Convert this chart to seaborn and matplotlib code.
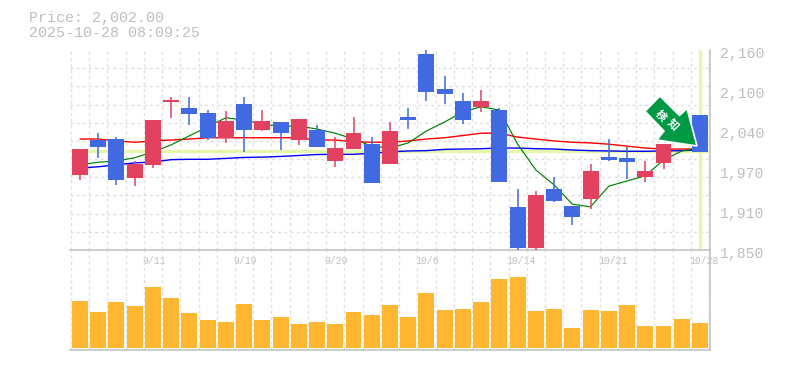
import numpy as np
import pandas as pd
import matplotlib
matplotlib.use("Agg")
import matplotlib.pyplot as plt
from matplotlib.patches import Polygon
from matplotlib.transforms import Affine2D, ScaledTranslation
import seaborn as sns

LAST_PRICE = 2003.0
TITLE_LINES = ["Price: 2,002.00", "2025-10-28 08:09:25"]
body_top = [2006.5,2020.5,2022,1983,2051.5,2082.5,2070,2062,2050,2076,2050,2048.5,2053,2036,2008,2031,2014,2034.5,
            2056,2154,2100,2081,2081,2067,1917,1935,1945,1918,1972,1994,1993,1972,2014,2028,2059]
body_bot = [1966,2010,1958.5,1962,1982,2079,2061,2024,2024,2036,2036,2031,2020.5,2010,1988,2006.5,1954,1983,
            2051.5,2095,2092,2051.5,2072,1955,1853,1853,1926,1901,1929,1989.5,1986,1963,1985,2020,2002]
wick_hi = [2007,2031,2025,1988,2051.5,2087,2087,2067,2065.5,2087,2067,2048.5,2053,2044,2025,2056,2025,2048.5,
           2070,2160,2120,2093,2098,2070,1945,1941,1963,1918,1983,2022,2010,1988,2014,2034,2059]
wick_lo = [1958,1993,1951,1949,1977,2055,2044,2020.5,2016,2002,2034.5,2005,2013,2010,1979,2006.5,1954,1983,
           2037.5,2081,2076,2045,2064,1955,1850,1850,1924,1889,1914,1988,1960,1955,1976,2018,2002]
is_red = [1,0,0,1,1,1,0,0,1,0,1,0,1,0,1,1,0,1,0,0,0,0,1,0,0,1,0,0,1,0,0,1,1,0,0]
ma_red = [2022,2022,2019,2017,2019,2020.5,2022,2024,2024,2024,2024,2024,2024,2020.5,2020.5,2018,2017,2017,2019,2022,
          2024,2027.5,2031,2031,2025,2022,2019,2017,2016,2014,2011,2008,2006.5,2006.5,2006.5]
ma_blue = [1977,1979,1982,1985,1986.5,1990,1990.6,1990.6,1992,1993.4,1994,1995,1996.5,1998,1998.3,1998.3,2000,2002,
           2003.5,2004,2006,2006.5,2007,2008,2008,2007,2006.5,2005,2004,2003.5,2003,2003,2003.5,2004,2005]
ma_green = [1982,1986,1988,1993,2002,2013,2027,2041,2055,2051.5,2045,2042,2042,2037.5,2031,2022,2011,2008,2016,2034.5,
            2048.5,2064,2072,2067,2014,1974,1951,1921,1917,1949,1957,1965,1989.5,2003.5,2008]
volume = [47,36,46,42,61,50,35,28,26,44,28,31,24,26,24,36,33,43,31,55,38,39,46,69,71,37,39,20,38,37,43,22,22,29,25]
y_tick_vals = [2160,2098,2036,1974,1912,1850]
y_tick_labels = ["2,160","2,100","2,040","1,970","1,910","1,850"]
x_tick_idx = [4,9,14,19,24,29,34]
x_tick_labels = ["9/11","9/19","9/29","10/6","10/14","10/21","10/28"]

RED, BLUE, ORANGE, BAND, GREY, GRID, ARROW = "#E34160","#4169E1","#FFB732","#E3F6AB","#BEBEBE","#E0E0E0","#009944"

sns.set_theme(style="white")
plt.rcParams["font.family"] = ["Liberation Mono", "DejaVu Sans Mono"]
fig = plt.figure(figsize=(7.85, 3.70), dpi=100, facecolor="white")
W, H = 785, 370
ax = fig.add_axes([70/W, (H-250)/H, 640/W, 200/H])
av = fig.add_axes([70/W, (H-350)/H, 640/W, 100/H])
for a in (ax, av):
    a.set_facecolor("none")

idx = np.arange(len(volume))
XLIM = (-0.548, 34.55)
grid_x = np.arange(-0.5, 34.6, 1.0)
kw = dict(color=GRID, linewidth=1.0, linestyle=(0, (2.2, 2.2)))

# price panel
ax.set_axisbelow(True)
sns.lineplot(x=idx, y=ma_red, color="#FF0000", linewidth=1.0, ax=ax, errorbar=None, zorder=3)
sns.lineplot(x=idx, y=ma_blue, color="#0000FF", linewidth=1.0, ax=ax, errorbar=None, zorder=3)
sns.lineplot(x=idx, y=ma_green, color="#008000", linewidth=0.85, ax=ax, errorbar=None, zorder=3)
ax.hlines([LAST_PRICE], XLIM[0], 34.45, color=BAND, linewidth=2.4, zorder=2)
ax.vlines([34.02], 1852, 2160, color=BAND, linewidth=2.4, zorder=2)
colors = [RED if r else BLUE for r in is_red]
ax.vlines(idx, wick_lo, wick_hi, colors=colors, linewidth=1.1, zorder=4)
ax.bar(idx, np.array(body_top)-np.array(body_bot), bottom=body_bot, width=0.875, color=colors, zorder=5, linewidth=0)
ax.set_xlim(*XLIM)
ax.set_ylim(1850, 2160)
ax.set_xticks(x_tick_idx, x_tick_labels, ha="left")
ax.set_xticks(grid_x, minor=True)
ax.set_yticks(y_tick_vals, y_tick_labels)
ax.set_yticks(2160 - 310/11*np.arange(11), minor=True)
ax.grid(which="minor", **kw)
ax.grid(which="major", visible=False)
ax.yaxis.tick_right()
ax.tick_params(axis="y", which="major", length=0, pad=7.2, labelsize=10.6, labelcolor=GREY)
ax.tick_params(axis="x", which="major", length=0, pad=4.2, labelsize=7.0, labelcolor=GREY)
ax.tick_params(which="minor", length=0)
for lab in ax.get_yticklabels():
    lab.set_transform(lab.get_transform() + ScaledTranslation(0, -2.2/100, fig.dpi_scale_trans))
for lab in ax.get_xticklabels():
    lab.set_transform(lab.get_transform() + ScaledTranslation(-11/100, 0, fig.dpi_scale_trans))
for s in ("top", "left"):
    ax.spines[s].set_visible(False)
for s in ("bottom", "right"):
    ax.spines[s].set_color(GREY)
    ax.spines[s].set_linewidth(1.1)

# volume panel
av.set_axisbelow(True)
sns.barplot(x=idx, y=volume, color=ORANGE, width=0.875, saturation=1, ax=av, zorder=3, linewidth=0)
av.set_xlim(*XLIM)
av.set_ylim(-2, 98)
av.set_xticks(grid_x, minor=True)
av.set_xticks([])
av.set_yticks([])
av.set_xlabel(""); av.set_ylabel("")
av.grid(which="minor", axis="x", **kw)
av.tick_params(which="both", length=0)
for s in ("top", "left"):
    av.spines[s].set_visible(False)
for s in ("bottom", "right"):
    av.spines[s].set_color(GREY)
    av.spines[s].set_linewidth(1.1)

# header text
fig.text(29/W, 1-18/H, TITLE_LINES[0], color=GREY, fontsize=10.8, va="center", ha="left")
fig.text(29/W, 1-33/H, TITLE_LINES[1], color=GREY, fontsize=10.8, va="center", ha="left")

# sign arrow, in pixel coordinates of the figure
px = Affine2D().scale(1/W, -1/H).translate(0, 1) + fig.transFigure
outline = [(660,96),(645,111.3),(664,131),(657,140),(697,146),(687,108.5),(679.5,115.5)]
ax.add_patch(Polygon(outline, closed=True, facecolor=ARROW, edgecolor="white", linewidth=1.2,
                     transform=px, clip_on=False, zorder=10, joinstyle="miter"))
for ch, cx, cy in [("検", 660.5, 115.5), ("知", 672.5, 125)]:
    fig.text(cx/W, 1-cy/H, ch, color="white", fontsize=7.8, fontweight="bold", rotation=-45,
             rotation_mode="anchor", ha="center", va="center", zorder=20,
             family=["Noto Sans CJK JP", "DejaVu Sans"])

fig.savefig("out.png", dpi=100, facecolor="white")
